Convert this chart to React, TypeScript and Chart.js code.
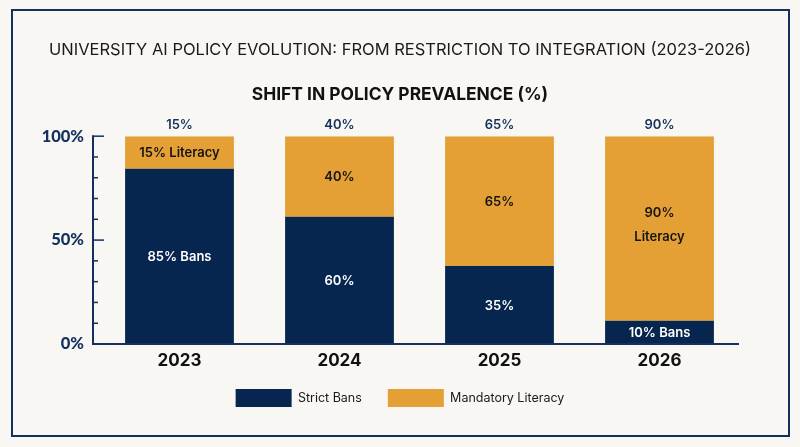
import React, { useEffect, useRef } from "react";
import { Chart, registerables } from "chart.js";

Chart.register(...registerables);

const years = ["2023", "2024", "2025", "2026"];
const strictBans = [84.3, 61.2, 37.5, 11.2];
const mandatoryLiteracy = [15.7, 38.8, 62.5, 88.8];
const banLabels = [["85% Bans"], ["60%"], ["35%"], ["10% Bans"]];
const literacyLabels = [["15% Literacy"], ["40%"], ["65%"], ["90%", "Literacy"]];
const topLabels = ["15%", "40%", "65%", "90%"];
const titleText = "UNIVERSITY AI POLICY EVOLUTION: FROM RESTRICTION TO INTEGRATION (2023-2026)";
const subtitleText = "SHIFT IN POLICY PREVALENCE (%)";

const NAVY = "#06264F";
const AXIS = "#14305F";
const ORANGE = "#E5A035";
const BG = "#F8F7F3";
const FONT = "Inter, Lato, sans-serif";

const overlay = {
  id: "overlay",
  afterLayout(chart: any) {
    chart.scales.x.bottom += 14;
  },
  afterDatasetsDraw(chart: any) {
    const { ctx, scales } = chart;
    const y = scales.y;
    const axisX = 93;
    const right = 739;
    ctx.save();
    ctx.strokeStyle = AXIS;
    ctx.lineWidth = 2;
    ctx.beginPath();
    ctx.moveTo(axisX, y.getPixelForValue(100) - 1);
    ctx.lineTo(axisX, y.getPixelForValue(0) + 1);
    ctx.moveTo(axisX, y.getPixelForValue(0));
    ctx.lineTo(right, y.getPixelForValue(0));
    ctx.stroke();
    ctx.lineWidth = 1.5;
    y.ticks.forEach((t: any) => {
      if (t.value === 0) return;
      const major = t.value % 50 === 0;
      const py = y.getPixelForValue(t.value);
      ctx.beginPath();
      ctx.moveTo(axisX, py);
      ctx.lineTo(axisX + (major ? 11 : 5), py);
      ctx.stroke();
    });
    ctx.textAlign = "center";
    ctx.textBaseline = "middle";
    ctx.font = `600 13px ${FONT}`;
    const drawLabels = (i: number, color: string, labels: string[][]) => {
      const meta = chart.getDatasetMeta(i);
      meta.data.forEach((bar: any, k: number) => {
        const lines = labels[k];
        const multi = lines.length > 1;
        const cy = (bar.y + bar.base) / 2 + (multi ? -3.5 : 1);
        ctx.fillStyle = color;
        lines.forEach((line, n) => {
          ctx.fillText(line, bar.x, cy + (n - (lines.length - 1) / 2) * 24);
        });
      });
    };
    drawLabels(0, "#FFFFFF", banLabels);
    drawLabels(1, "#141414", literacyLabels);
    ctx.fillStyle = AXIS;
    chart.getDatasetMeta(1).data.forEach((bar: any, k: number) => {
      ctx.fillText(topLabels[k], bar.x, bar.y - 11);
    });
    ctx.restore();
  },
};

export default function App() {
  const ref = useRef<HTMLCanvasElement | null>(null);
  useEffect(() => {
    document.body.style.margin = "0";
    document.body.style.background = BG;
    const chart = new Chart(ref.current as HTMLCanvasElement, {
      type: "bar",
      data: {
        labels: years,
        datasets: [
          { label: "Strict Bans", data: strictBans, backgroundColor: NAVY, barPercentage: 0.68, categoryPercentage: 1, yAxisID: "y" },
          { label: "Mandatory Literacy", data: mandatoryLiteracy, backgroundColor: ORANGE, barPercentage: 0.68, categoryPercentage: 1, yAxisID: "y" },
        ],
      },
      options: {
        responsive: false,
        animation: false,
        devicePixelRatio: 1,
        layout: { padding: { left: 0, right: 0, top: 0, bottom: 30 } },
        scales: {
          x: {
            stacked: true,
            grid: { display: false },
            border: { display: false },
            ticks: { color: "#111111", font: { family: FONT, size: 17, weight: "700" }, padding: -1, maxRotation: 0 },
            afterFit(s: any) { s.height = 19; },
          },
          y: {
            stacked: true,
            min: 0,
            max: 100,
            grid: { display: false },
            border: { display: false },
            ticks: {
              stepSize: 10,
              autoSkip: false,
              color: AXIS,
              font: { family: "Lato, sans-serif", size: 16.5, weight: "900" },
              padding: 7.5,
              callback: (v: any) => (Number(v) % 50 === 0 ? `${v}%` : ""),
            },
            afterFit(s: any) { s.width = 99.5; },
          },
          spacer: {
            axis: "y",
            position: "right",
            grid: { display: false },
            border: { display: false },
            ticks: { display: false },
            afterFit(s: any) { s.width = 60.5; },
          },
        },
        plugins: {
          tooltip: { enabled: false },
          title: {
            display: true,
            text: titleText,
            color: "#1A1A1A",
            font: { family: FONT, size: 16.5, weight: "400" },
            padding: { top: 40, bottom: 25 },
          },
          subtitle: {
            display: true,
            text: subtitleText,
            color: "#111111",
            font: { family: FONT, size: 17.4, weight: "700" },
            padding: { top: 0, bottom: 30.5 },
          },
          legend: {
            position: "bottom",
            labels: {
              boxWidth: 56,
              boxHeight: 18,
              padding: 26,
              color: "#1A1A1A",
              font: { family: FONT, size: 12.5, weight: "400" },
            },
          },
        },
      },
      plugins: [overlay],
    } as any);
    return () => chart.destroy();
  }, []);
  return (
    <div style={{ position: "absolute", left: 0, top: 0, width: 800, height: 447, background: BG, overflow: "hidden" }}>
      <div style={{ position: "absolute", left: 11, top: 9, width: 775, height: 424, border: `2px solid ${AXIS}` }} />
      <canvas ref={ref} width={800} height={447} style={{ position: "absolute", left: 0, top: 0, display: "block" }} />
    </div>
  );
}
